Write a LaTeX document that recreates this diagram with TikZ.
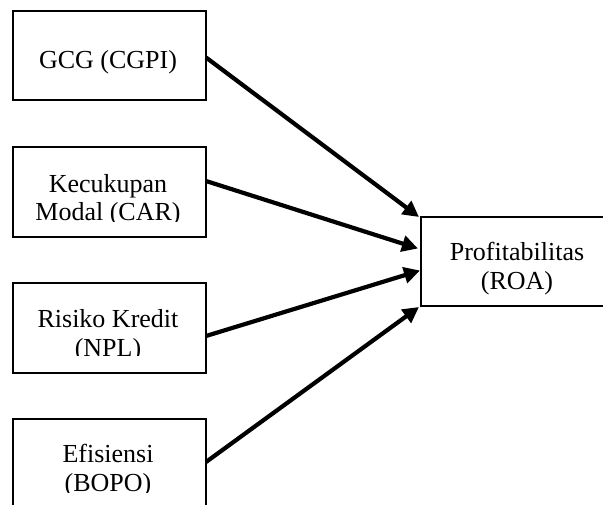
\documentclass[tikz,border=0pt]{standalone}
\usepackage{fontspec}
\setmainfont{Liberation Serif}
\usetikzlibrary{arrows.meta,calc}
\begin{document}
\begin{tikzpicture}[x=1pt,y=-1pt,
  boxstyle/.style={draw,line width=2.8pt,inner sep=0pt,outer sep=0pt,minimum width=193pt,minimum height=89pt},
  lbl/.style={font=\fontsize{26}{29}\selectfont,inner sep=0pt,anchor=base},
  conn/.style={line width=4.2pt,-{Triangle[length=16pt,width=16pt]}}]
\path[use as bounding box] (0,0) rectangle (603,504);
\clip (0,0) rectangle (603,504);
% boxes
\node[boxstyle] (g) at (109.5,55.5) {};
\node[boxstyle,minimum height=90pt] (k) at (109.5,192) {};
\node[boxstyle,minimum height=90pt] (r) at (109.5,328) {};
\node[boxstyle,minimum height=90pt] (e) at (109.5,464) {};
\node[boxstyle] (p) at (517.5,261.5) {};
% texts
\node[lbl] (tg) at (108,68) {GCG (CGPI)};
\begin{scope}
\clip (0,0) rectangle (603,221);
\node[lbl] (tk1) at (108,192) {Kecukupan};
\node[lbl] (tk2) at (108,220) {Modal (CAR)};
\end{scope}
\begin{scope}
\clip (0,0) rectangle (603,355);
\node[lbl] (tr1) at (108,327) {Risiko Kredit};
\node[lbl] (tr2) at (108,356) {(NPL)};
\end{scope}
\begin{scope}
\clip (0,0) rectangle (603,492);
\node[lbl] (te1) at (108,462) {Efisiensi};
\node[lbl] (te2) at (108,491) {(BOPO)};
\end{scope}
\node[lbl] (tp1) at (517,260) {Profitabilitas};
\node[lbl] (tp2) at (517,289) {(ROA)};
% connectors
\draw[conn] ($(g.east)+(0,2)$) -- ($(p.north west)+(-2,0)$);
\draw[conn] ($(k.east)+(0,-11)$) -- ($(p.west)+(-3,-13)$);
\draw[conn] ($(r.east)+(0,8)$) -- ($(p.west)+(-1,9)$);
\draw[conn] ($(e.east)+(0,-2)$) -- ($(p.south west)+(-2,1)$);
\end{tikzpicture}
\end{document}
